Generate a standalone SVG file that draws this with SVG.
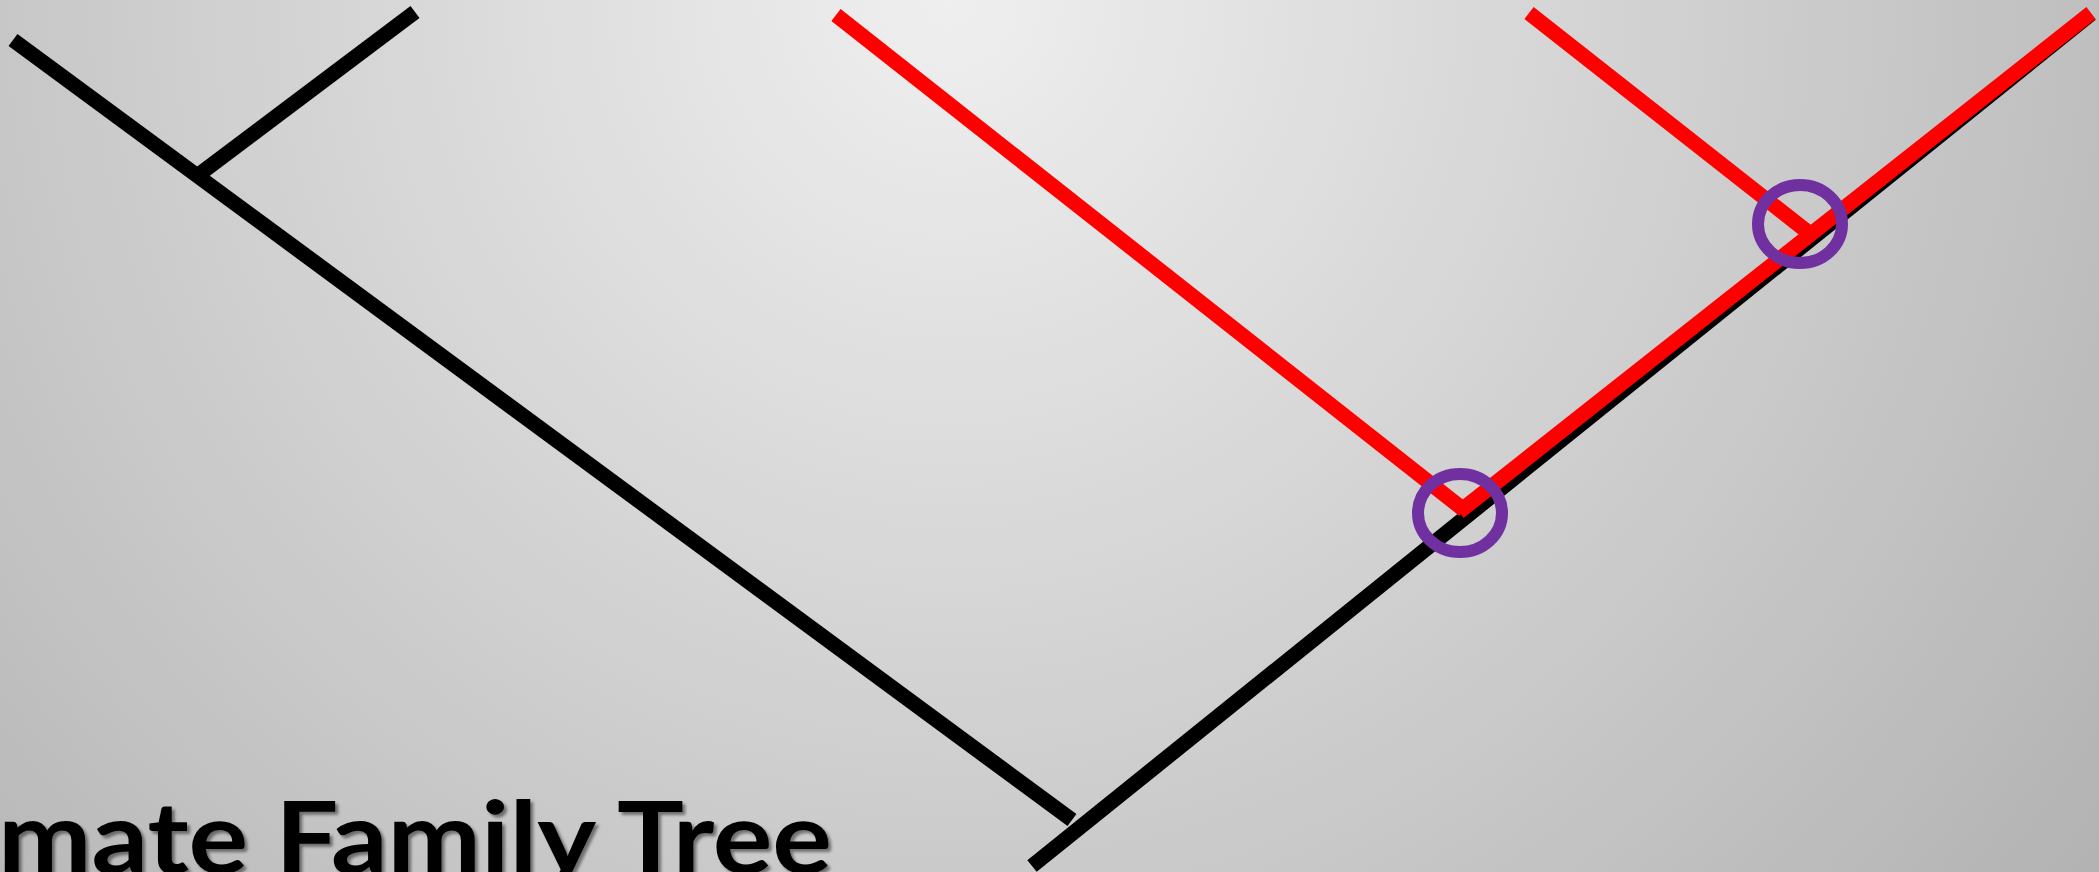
<svg xmlns="http://www.w3.org/2000/svg" width="2099" height="872" viewBox="0 0 2099 872">
  <defs>
    <radialGradient id="bg" cx="950" cy="0" r="1450" gradientUnits="userSpaceOnUse">
      <stop offset="0" stop-color="#efefef"/>
      <stop offset="1" stop-color="#b2b2b2"/>
    </radialGradient>
    <filter id="shadow" x="-5%" y="-20%" width="110%" height="140%">
      <feDropShadow dx="3" dy="3" stdDeviation="1.5" flood-color="#000" flood-opacity="0.45"/>
    </filter>
  </defs>
  <style>
    .blk { stroke: #000; stroke-width: 15; fill: none; stroke-linecap: butt; }
    .red { stroke: #ff0000; stroke-width: 15; fill: none; stroke-linecap: butt; }
    .ring { stroke: #7030a0; stroke-width: 12; fill: none; }
    .title { font-family: Lato, "Liberation Sans", sans-serif; font-weight: bold; font-size: 100px; fill: #000; }
  </style>
  <rect width="2099" height="872" fill="url(#bg)"/>
  <g id="connectors">
    <line class="blk" x1="13" y1="40" x2="1072" y2="820"/>
    <line class="blk" x1="197" y1="176" x2="415" y2="12"/>
    <line class="blk" x1="1032" y1="866" x2="2091" y2="14"/>
    <line class="red" x1="836" y1="15" x2="1464" y2="510"/>
    <line class="red" x1="1459" y1="512" x2="2091" y2="13"/>
    <line class="red" x1="1529" y1="13" x2="1809" y2="233"/>
  </g>
  <g id="node-ring-1">
    <ellipse class="ring" cx="1460" cy="513" rx="42" ry="39"/>
  </g>
  <g id="node-ring-2">
    <ellipse class="ring" cx="1800" cy="224" rx="42" ry="39"/>
  </g>
  <g id="title">
    <text class="title" x="-2" y="873" textLength="834" lengthAdjust="spacingAndGlyphs" filter="url(#shadow)">mate Family Tree</text>
  </g>
</svg>
